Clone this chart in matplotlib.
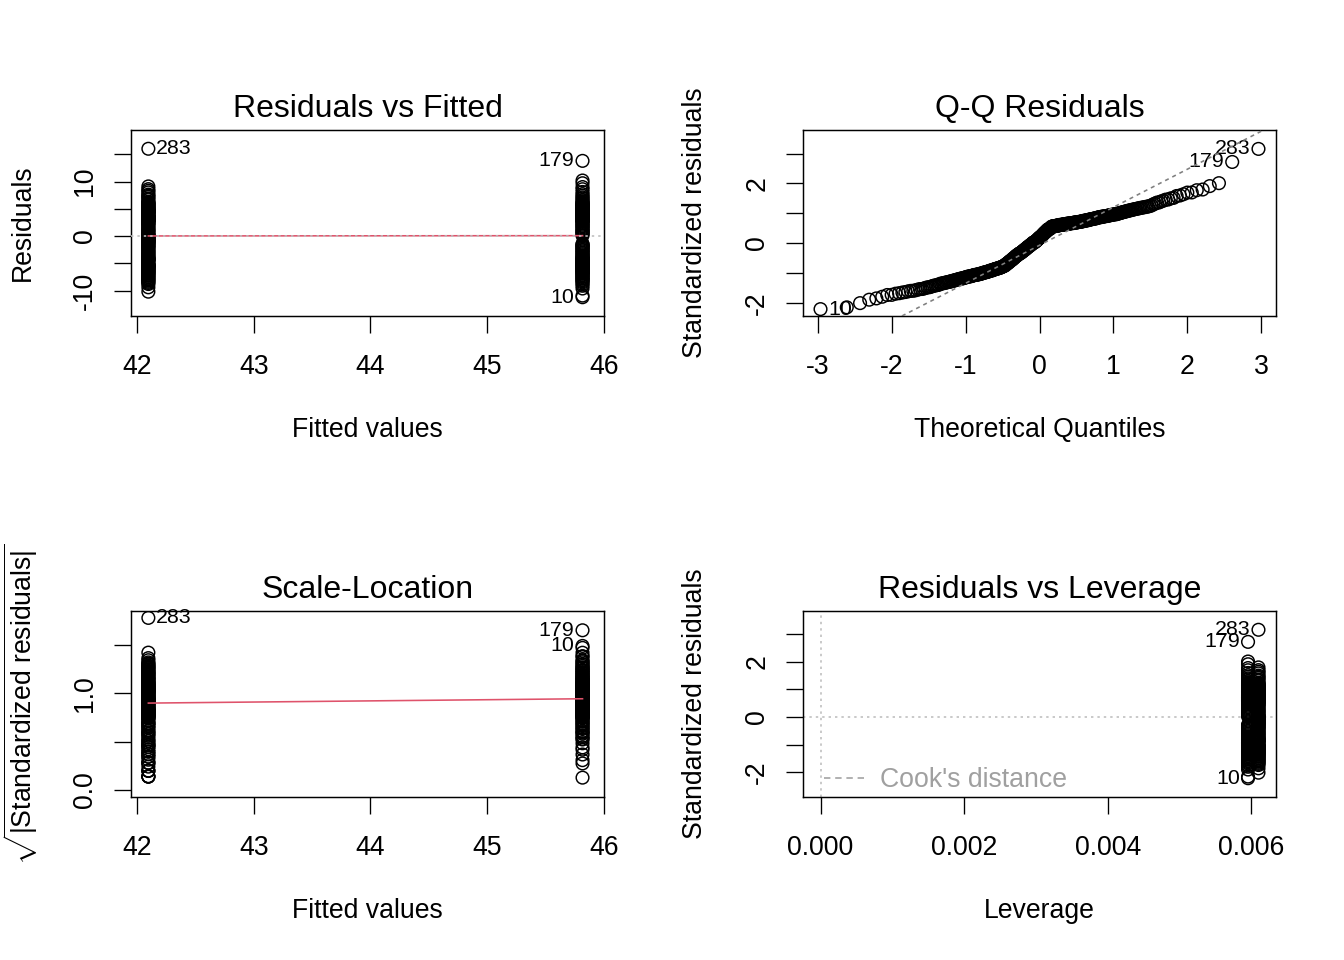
import numpy as np
import matplotlib.pyplot as plt
from matplotlib.lines import Line2D
from statistics import NormalDist

# response values of the two groups, in the order they sit in the data file
score_a = [31.9, 32.7, 33.3, 33.5, 33.7, 33.9, 34.0, 34.2, 34.3, 34.5,
           34.6, 34.8, 34.9, 35.0, 35.2, 35.3, 35.4, 35.5, 35.6, 35.7,
           35.8, 35.9, 36.0, 36.1, 36.2, 36.3, 36.4, 36.4, 36.5, 36.6,
           36.7, 36.7, 36.8, 36.8, 36.9, 37.0, 40.9, 37.1, 41.0, 41.2,
           41.4, 37.4, 41.5, 37.6, 37.7, 37.7, 37.8, 37.9, 37.9, 38.0,
           38.1, 38.2, 38.3, 38.5, 38.7, 38.8, 39.0, 39.2, 39.3, 39.5,
           39.7, 39.9, 40.0, 40.2, 40.3, 40.4, 40.5, 40.7, 40.8, 41.0,
           41.1, 41.3, 41.4, 41.6, 41.7, 41.9, 42.0, 42.2, 42.3, 42.5,
           42.7, 42.9, 43.1, 43.2, 43.4, 43.6, 43.8, 44.0, 44.2, 44.4,
           44.5, 44.7, 44.9, 44.9, 45.0, 45.0, 45.0, 45.1, 45.1, 45.2,
           45.2, 45.2, 45.3, 45.3, 45.3, 45.4, 45.4, 45.4, 45.5, 45.5,
           45.5, 45.6, 45.6, 45.6, 58.1, 45.7, 45.7, 41.7, 44.5, 45.8,
           41.8, 45.9, 42.0, 46.0, 42.2, 42.3, 46.2, 46.3, 46.3, 46.4,
           46.5, 46.5, 46.6, 46.6, 46.7, 46.7, 46.8, 46.8, 46.9, 47.0,
           47.0, 47.1, 47.2, 47.3, 47.4, 47.5, 47.6, 47.7, 47.8, 47.9,
           48.0, 48.1, 48.2, 48.3, 48.4, 48.8, 49.0, 49.3, 49.5, 49.7,
           50.1, 50.4, 50.7, 51.2]

score_b = [34.9, 36.2, 36.7, 37.0, 37.3, 37.5, 37.7, 37.8, 38.0, 34.6,
           38.1, 38.3, 38.4, 38.6, 38.7, 38.9, 39.0, 39.1, 39.2, 39.3,
           39.4, 39.5, 39.6, 39.7, 39.8, 39.8, 39.9, 40.0, 40.1, 40.2,
           40.2, 40.3, 40.4, 40.4, 40.5, 40.6, 40.6, 40.7, 40.8, 40.9,
           40.9, 41.0, 41.1, 41.2, 41.2, 41.3, 41.4, 41.5, 41.5, 41.6,
           41.7, 41.8, 41.9, 42.0, 42.2, 42.3, 42.5, 42.7, 42.8, 43.0,
           43.2, 43.3, 43.5, 43.7, 43.8, 44.0, 44.1, 44.3, 44.4, 40.8,
           40.9, 41.0, 41.1, 41.2, 45.9, 49.6, 49.7, 49.8, 49.9, 46.2,
           46.3, 46.5, 46.7, 46.8, 47.0, 47.2, 47.4, 47.6, 47.7, 47.9,
           48.1, 48.2, 48.4, 48.6, 48.7, 48.7, 48.7, 48.8, 48.8, 48.8,
           48.9, 48.9, 48.9, 49.0, 49.0, 49.0, 49.1, 49.1, 49.1, 49.2,
           49.2, 49.2, 49.3, 49.3, 49.3, 49.4, 49.4, 49.4, 59.6, 49.5,
           49.5, 49.5, 49.6, 49.6, 49.7, 49.7, 49.8, 49.8, 49.9, 49.9,
           50.0, 50.0, 50.1, 50.2, 50.2, 50.3, 50.3, 50.4, 50.4, 50.5,
           50.6, 50.6, 50.7, 50.7, 50.8, 50.9, 51.0, 51.1, 51.2, 51.3,
           51.4, 51.5, 51.6, 51.7, 51.8, 51.9, 52.0, 52.2, 52.4, 52.7,
           52.9, 53.2, 53.5, 53.9, 54.4, 54.8, 55.5, 56.0]

# layout of the data file: (group, first, last+1) blocks in row order
file_blocks = [("b", 0, 100), ("a", 0, 60), ("b", 100, 168), ("a", 60, 164)]

captions = ["Residuals vs Fitted", "Q-Q Residuals", "Scale-Location", "Residuals vs Leverage"]
cook_levels = [0.5, 1.0]

RED = "#DF536B"
GREY = "#BEBEBE"

plt.rcParams['font.family'] = ['Liberation Sans', 'DejaVu Sans']
plt.rcParams['mathtext.fontset'] = 'custom'
plt.rcParams['mathtext.rm'] = 'Liberation Sans'
plt.rcParams['mathtext.it'] = 'Liberation Sans'
plt.rcParams['axes.unicode_minus'] = False

# ---- fit y ~ group -------------------------------------------------------
groups = {"a": np.array(score_a), "b": np.array(score_b)}
y = np.concatenate([groups[g][i0:i1] for g, i0, i1 in file_blocks])
grp = np.concatenate([[g] * (i1 - i0) for g, i0, i1 in file_blocks])
case = np.arange(1, len(y) + 1)
n = len(y)
p = 2
fitted = np.array([groups[g].mean() for g in grp])
resid = y - fitted
hat = np.array([1.0 / len(groups[g]) for g in grp])
sigma = np.sqrt(np.sum(resid ** 2) / (n - p))
std_res = resid / (sigma * np.sqrt(1 - hat))
cook = std_res ** 2 * hat / (p * (1 - hat))
sqrt_abs = np.sqrt(np.abs(std_res))


def extend(lo, hi, f):
    d = (hi - lo) * f
    return lo - d, hi + d


def smooth(x, v, iters=3):
    # lowess with only two distinct x values: a robust (bisquare) mean per x
    ux = np.unique(x)
    fit = np.array([v[x == u].mean() for u in x])
    for _ in range(iters):
        r = v - fit
        c = 6 * np.median(np.abs(r))
        w = np.where(np.abs(r) < c, (1 - (r / c) ** 2) ** 2, 0.0)
        fit = np.array([np.average(v[x == u], weights=w[x == u]) for u in x])
    return ux, np.array([fit[x == u][0] for u in ux])


def style(ax, xticks, yticks, ylabels, xlabels=None):
    for s in ax.spines.values():
        s.set_linewidth(1.1)
    ax.set_xticks(xticks)
    if xlabels is not None:
        ax.set_xticklabels(xlabels)
    ax.set_yticks(yticks)
    ax.set_yticklabels(ylabels)
    ax.tick_params(direction='out', length=12.5, width=1.0, labelsize=20, pad=12)
    ax.tick_params(axis='x', pad=16)
    ax.tick_params(axis='y', labelrotation=90)
    for lab in ax.get_yticklabels():
        lab.set_va('center')


def label_top(ax, x, yv, score, k=3):
    idx = np.argsort(-np.abs(score))[:k]
    xmid = np.mean(ax.get_xlim())
    for i in idx:
        right = x[i] <= xmid
        ax.annotate(str(case[i]), (x[i], yv[i]), xytext=(6 if right else -6, 0),
                    textcoords='offset points', ha='left' if right else 'right',
                    va='center', fontsize=16)


def points(ax, x, yv):
    ax.scatter(x, yv, s=90, facecolors='none', edgecolors='black', linewidths=1.1, zorder=3)


fig = plt.figure(figsize=(14, 10), dpi=96)
W, H = 1344, 960
boxes = [(131, 130), (803, 130), (131, 611), (803, 611)]
axes = [fig.add_axes([x0 / W, 1 - (y0 + 186) / H, 473 / W, 186 / H]) for x0, y0 in boxes]
dots = (0, (1.5, 2.5))

# 1. residuals vs fitted
ax = axes[0]
ax.set_xlim(extend(fitted.min(), fitted.max(), 0.04))
ax.set_ylim(extend(*extend(resid.min(), resid.max(), 0.08), 0.04))
ax.plot(*smooth(fitted, resid), color=RED, lw=1.2, zorder=4)
ax.axhline(0, color=GREY, lw=1.2, ls=dots, zorder=5)
points(ax, fitted, resid)
style(ax, [42, 43, 44, 45, 46], [-10, -5, 0, 5, 10, 15], ["-10", "", "0", "", "10", ""])
label_top(ax, fitted, resid, resid)
ax.set_xlabel("Fitted values", fontsize=20, labelpad=28)
ax.set_ylabel("Residuals", fontsize=20, labelpad=27)

# 2. normal Q-Q
ax = axes[1]
nd = NormalDist()
order = np.argsort(std_res)
theo = np.empty(n)
theo[order] = [nd.inv_cdf((i - 0.5) / n) for i in range(1, n + 1)]
ylo, yhi = std_res.min(), std_res.max()
ax.set_xlim(extend(theo.min(), theo.max(), 0.04))
ax.set_ylim(extend(ylo, yhi + (yhi - ylo) * 0.075, 0.04))
q1, q3 = np.quantile(std_res, [0.25, 0.75])
t1, t3 = nd.inv_cdf(0.25), nd.inv_cdf(0.75)
slope = (q3 - q1) / (t3 - t1)
ax.axline((t1, q1), slope=slope, color="#7F7F7F", lw=1.2, ls=(0, (2.5, 2.5)), zorder=5)
points(ax, theo, std_res)
style(ax, [-3, -2, -1, 0, 1, 2, 3], [-2, -1, 0, 1, 2, 3], ["-2", "", "0", "", "2", ""])
label_top(ax, theo, std_res, std_res)
ax.set_xlabel("Theoretical Quantiles", fontsize=20, labelpad=28)
ax.set_ylabel("Standardized residuals", fontsize=20, labelpad=27)

# 3. scale-location
ax = axes[2]
ax.set_xlim(extend(fitted.min(), fitted.max(), 0.04))
ax.set_ylim(extend(0, sqrt_abs.max(), 0.04))
ax.plot(*smooth(fitted, sqrt_abs), color=RED, lw=1.2, zorder=4)
points(ax, fitted, sqrt_abs)
style(ax, [42, 43, 44, 45, 46], [0, 0.5, 1.0, 1.5], ["0.0", "", "1.0", ""])
label_top(ax, fitted, sqrt_abs, std_res)
ax.set_xlabel("Fitted values", fontsize=20, labelpad=28)
ax.set_ylabel(r"$\sqrt{|\mathrm{Standardized\ residuals}|}$", fontsize=20, labelpad=24)

# 4. residuals vs leverage
ax = axes[3]
ax.set_xlim(extend(0, hat.max(), 0.04))
ax.set_ylim(extend(*extend(std_res.min(), std_res.max(), 0.08), 0.04))
ax.axhline(0, color=GREY, lw=1.2, ls=dots, zorder=1)
ax.axvline(0, color=GREY, lw=1.2, ls=dots, zorder=1)
hh = np.linspace(0.0001, ax.get_xlim()[1], 100)
for lev in cook_levels:
    r = np.sqrt(lev * p * (1 - hh) / hh)
    ax.plot(hh, r, color=RED, ls='--', lw=1.0)
    ax.plot(hh, -r, color=RED, ls='--', lw=1.0)
points(ax, hat, std_res)
style(ax, [0, 0.002, 0.004, 0.006], [-2, -1, 0, 1, 2, 3], ["-2", "", "0", "", "2", ""],
      ["0.000", "0.002", "0.004", "0.006"])
label_top(ax, hat, std_res, std_res)
ax.legend(handles=[Line2D([], [], color="#A0A0A0", ls=(0, (4, 3)), lw=1.2)],
          labels=["Cook's distance"], loc='lower left', frameon=False, fontsize=20,
          labelcolor="#A0A0A0", handlelength=1.6, handletextpad=0.5, borderaxespad=0.0,
          bbox_to_anchor=(0.022, -0.035))
ax.set_xlabel("Leverage", fontsize=20, labelpad=28)
ax.set_ylabel("Standardized residuals", fontsize=20, labelpad=27)

for ax, cap in zip(axes, captions):
    ax.set_title(cap, fontsize=24, pad=10)

fig.savefig("out.png", dpi=96)
